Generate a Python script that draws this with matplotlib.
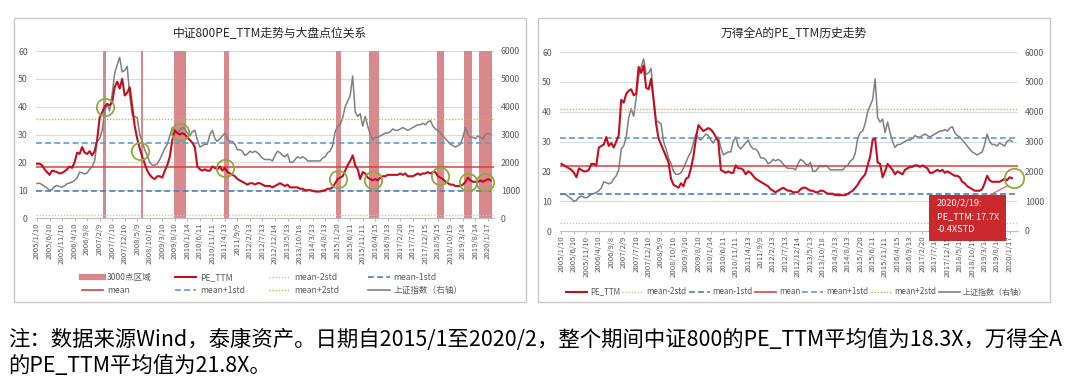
import matplotlib
matplotlib.use('Agg')
import matplotlib.pyplot as plt
from matplotlib.lines import Line2D
from matplotlib.patches import Rectangle
import numpy as np

plt.rcParams['font.family'] = ['Noto Sans CJK SC', 'DejaVu Sans']

# ---------------- data ----------------
tick_labels = ['2005/1/10', '2005/6/10', '2005/11/10', '2006/4/10', '2006/9/8', '2007/2/9',
               '2007/7/10', '2007/12/10', '2008/5/9', '2008/10/10', '2009/3/10', '2009/8/10',
               '2010/1/14', '2010/6/11', '2010/11/11', '2011/4/13', '2011/9/9', '2012/2/13',
               '2012/7/13', '2012/12/14', '2013/5/13', '2013/10/18', '2014/3/13', '2014/8/13',
               '2015/1/20', '2015/6/11', '2015/11/11', '2016/4/15', '2016/9/13', '2017/2/20',
               '2017/7/17', '2017/12/15', '2018/5/15', '2018/10/19', '2019/3/14', '2019/8/14',
               '2020/1/17']
tick_step = 5  # one label every 5 monthly observations

# Shanghai Composite (monthly, 2005/1 - 2020/2)
sh_index = [
    1240, 1250, 1200, 1140, 1080, 990, 1030, 1130, 1170, 1130, 1110, 1160,
    1230, 1260, 1290, 1350, 1440, 1650, 1620, 1580, 1620, 1750, 1850, 2050,
    2750, 2850, 3150, 3800, 4100, 3850, 4450, 5200, 5500, 5770, 5250, 5300,
    5450, 4400, 3700, 3650, 3600, 3000, 2750, 2450, 2250, 2000, 1900, 1900,
    1950, 2100, 2300, 2500, 2650, 2950, 3250, 3100, 3050, 3150, 3250, 3200,
    3050, 2950, 3100, 3150, 2800, 2550, 2600, 2650, 2650, 3000, 3150, 2850,
    2750, 2850, 2950, 3050, 2850, 2750, 2750, 2650, 2450, 2450, 2400, 2250,
    2300, 2400, 2350, 2400, 2350, 2250, 2150, 2100, 2100, 2100, 2050, 2250,
    2400, 2350, 2250, 2200, 2300, 2000, 2000, 2100, 2200, 2150, 2200, 2150,
    2050, 2050, 2050, 2050, 2050, 2050, 2150, 2200, 2350, 2400, 2600, 3100,
    3300, 3350, 3600, 4000, 4200, 4400, 5100, 3800, 3650, 3750, 3300, 3650,
    3300, 3000, 2800, 2900, 2900, 2950, 3000, 3050, 3050, 3100, 3200, 3150,
    3150, 3200, 3250, 3200, 3150, 3200, 3250, 3300, 3350, 3350, 3400, 3350,
    3450, 3500, 3300, 3200, 3150, 3050, 2950, 2850, 2750, 2650, 2600, 2550,
    2600, 2650, 2900, 3250, 3000, 2900, 2900, 2850, 2950, 2900, 2850, 3000,
    3050, 3000]

# CSI 800 PE_TTM
pe_800 = [
    19.5, 19.5, 19.0, 17.5, 16.5, 15.5, 17.0, 16.8, 16.5, 16.0, 16.2, 16.8,
    17.5, 18.5, 18.0, 20.0, 23.5, 23.0, 25.5, 23.5, 23.0, 24.0, 22.5, 24.0,
    28.0, 36.0, 38.0, 40.0, 41.0, 40.5, 41.5, 47.0, 49.0, 46.5, 50.0, 44.0,
    45.0, 47.0, 40.0, 33.0, 28.5, 25.0, 22.0, 19.5, 17.0, 15.5, 14.5, 14.0,
    15.0, 15.0, 14.5, 17.0, 19.0, 22.0, 28.0, 31.5, 30.5, 30.0, 30.5, 30.0,
    29.0, 28.0, 27.0, 25.5, 18.5, 17.5, 17.0, 17.5, 17.0, 17.0, 18.5, 18.0,
    17.5, 18.5, 17.0, 18.0, 16.5, 16.0, 15.5, 15.0, 14.0, 13.5, 13.0, 12.5,
    12.0, 12.5, 12.5, 12.0, 12.5, 12.5, 12.0, 11.5, 11.5, 11.5, 11.0, 11.5,
    12.0, 12.5, 12.0, 11.5, 12.0, 11.0, 11.0, 11.0, 11.0, 10.5, 10.5, 10.0,
    10.0, 10.0, 9.8, 9.5, 9.5, 9.5, 9.8, 10.0, 10.5, 10.5, 11.0, 12.5,
    14.0, 14.5, 15.0, 17.0, 19.0, 20.5, 22.5, 19.0, 17.5, 14.0, 16.5, 16.0,
    14.5, 14.0, 13.5, 14.0, 13.5, 14.5, 15.0, 15.0, 15.5, 15.5, 15.5, 15.5,
    15.5, 16.0, 15.5, 16.0, 15.0, 15.0, 15.0, 15.5, 16.0, 15.5, 16.0, 16.0,
    16.5, 16.0, 16.5, 16.5, 15.0, 14.5, 14.0, 13.0, 12.5, 12.0, 12.0, 11.5,
    11.5, 11.5, 12.0, 13.0, 14.5, 13.5, 13.0, 13.0, 13.0, 13.5, 13.0, 13.5,
    14.0, 13.5]

# Wind All A PE_TTM
pe_all_a = [
    22.5, 22.0, 21.5, 21.0, 20.5, 19.5, 18.0, 21.0, 20.5, 20.0, 20.0, 20.5,
    22.5, 22.5, 22.0, 28.0, 28.5, 29.0, 31.5, 28.5, 29.5, 28.0, 30.0, 32.0,
    44.0, 43.0, 46.0, 47.0, 47.5, 45.5, 46.0, 55.0, 53.0, 55.5, 48.0, 47.5,
    51.0, 44.0, 36.0, 31.0, 29.0, 27.0, 25.0, 23.0, 17.5, 15.5, 15.0, 14.5,
    16.0, 15.0, 17.5, 18.0, 21.0, 25.0, 31.0, 35.5, 34.5, 33.5, 34.0, 34.5,
    34.0, 33.0, 31.5, 30.0, 20.5, 20.0, 19.5, 20.0, 19.5, 19.5, 22.0, 21.0,
    21.0, 20.5, 19.0, 20.0, 19.5, 18.5, 17.5, 17.0, 16.5, 16.0, 15.5, 15.0,
    14.0, 13.5, 13.0, 13.5, 14.0, 14.5, 14.0, 13.5, 13.5, 13.0, 13.0, 13.0,
    14.0, 14.5, 14.5, 14.0, 13.5, 13.5, 13.0, 13.0, 13.5, 13.5, 13.0, 12.5,
    12.5, 12.5, 12.0, 12.0, 12.0, 12.0, 12.0, 12.5, 13.0, 13.5, 14.5, 15.5,
    17.0, 18.0, 19.0, 22.0, 25.0, 30.5, 31.0, 23.0, 22.5, 18.0, 20.0, 22.5,
    21.5, 20.5, 19.0, 20.0, 19.5, 19.0, 20.5, 21.0, 21.5, 21.5, 22.0, 22.0,
    21.5, 22.0, 21.5, 21.0, 19.5, 19.5, 20.0, 20.5, 20.0, 20.5, 19.5, 20.0,
    19.5, 19.0, 18.5, 18.5, 18.0, 16.5, 16.0, 15.0, 14.5, 14.0, 13.5, 13.5,
    13.5, 14.0, 16.0, 18.5, 17.0, 16.5, 16.5, 16.5, 16.5, 17.0, 17.5, 17.0,
    18.0, 17.7]

mean_800, std_800 = 18.3, 8.7
mean_all_a, std_all_a = 21.8, 9.5

# months flagged as "3000点区域"
zone_3000 = [27, 42, 55, 56, 57, 58, 59, 75, 76, 120, 121, 133, 134, 135, 136,
             160, 161, 162, 171, 172, 173, 177, 178, 179, 180, 181]
# highlighted observations (month index, PE) on the CSI 800 chart
circle_idx = [27, 41, 57, 75, 120, 134, 161, 172, 179]
circle_pe = [40.0, 24.0, 31.0, 18.0, 14.0, 13.5, 15.0, 13.0, 13.0]

note_date = '2020/2/19:'
note_pe = 'PE_TTM: 17.7X'
note_std = '-0.4XSTD'

title_left = '中证800PE_TTM走势与大盘点位关系'
title_right = '万得全A的PE_TTM历史走势'
caption1 = '注：数据来源Wind，泰康资产。日期自2015/1至2020/2，整个期间中证800的PE_TTM平均值为18.3X，万得全A'
caption2 = '的PE_TTM平均值为21.8X。'

# ---------------- styles ----------------
W, H = 1080, 389
c_pe = '#c01020'
c_mean = '#d94040'
c_m1 = '#4a7ebb'
c_p1 = '#5b9bd5'
c_m2 = '#cdc597'
c_p2 = '#c7b256'
c_sh = '#7f7f7f'
c_shade = '#d9888c'
c_circle = '#92a83e'
c_tick = '#595959'
c_grid = '#d9d9d9'

fig = plt.figure(figsize=(W / 100, H / 100), dpi=100)
fig.patch.set_facecolor('white')


def fx(px):
    return px / W


def fy(py):
    return 1 - py / H


def add_rect_px(x0, y0, x1, y1, **kw):
    r = Rectangle((fx(x0), fy(y1)), fx(x1) - fx(x0), fy(y0) - fy(y1),
                  transform=fig.transFigure, **kw)
    fig.patches.append(r)
    return r


n = len(pe_800)
x = np.arange(n)
tick_pos = np.arange(len(tick_labels)) * tick_step


def make_panel(px_left, px_right, py_top, py_bottom, xlim, pe, mean, std, shade=None):
    axr = fig.add_axes([fx(px_left), fy(py_bottom), fx(px_right) - fx(px_left),
                        fy(py_top) - fy(py_bottom)])
    axl = axr.twinx()
    axr.set_zorder(1)
    axl.set_zorder(2)
    axl.patch.set_visible(False)
    axr.patch.set_visible(False)
    axl.yaxis.tick_left()
    axr.yaxis.tick_right()

    axr.set_xlim(*xlim)
    axr.set_ylim(0, 6000)
    axl.set_ylim(0, 60)
    axr.set_yticks(np.arange(0, 6001, 1000))
    axl.set_yticks(np.arange(0, 61, 10))
    for yv in np.arange(1000, 6001, 1000):
        axr.axhline(yv, color=c_grid, lw=0.8, zorder=0)

    if shade is not None:
        axr.bar(shade, 6000, width=1.0, color=c_shade, linewidth=0, zorder=1)
    axr.plot(x, sh_index, color=c_sh, lw=1.1, zorder=2)

    axl.axhline(mean - 2 * std, color=c_m2, lw=1.0, linestyle=(0, (1, 1.2)))
    axl.axhline(mean + 2 * std, color=c_p2, lw=1.0, linestyle=(0, (1, 1.2)))
    axl.axhline(mean - std, color=c_m1, lw=1.2, linestyle=(0, (3.5, 2)))
    axl.axhline(mean + std, color=c_p1, lw=1.2, linestyle=(0, (3.5, 2)))
    axl.axhline(mean, color=c_mean, lw=1.1)
    axl.plot(x, pe, color=c_pe, lw=1.5)

    for a in (axl, axr):
        for s in ('top', 'left', 'right'):
            a.spines[s].set_visible(False)
        a.spines['bottom'].set_color('#bfbfbf')
        a.spines['bottom'].set_linewidth(0.8)
    axr.set_xticks(tick_pos)
    axr.set_xticklabels(tick_labels, rotation=90, fontsize=5.6, color=c_tick)
    axr.tick_params(axis='x', length=2, color='#bfbfbf', pad=1.5)
    axl.tick_params(axis='y', length=0, pad=6, labelsize=6.3, labelcolor=c_tick,
                    left=True, labelleft=True, right=False, labelright=False)
    axr.tick_params(axis='y', length=0, pad=5, labelsize=6.3, labelcolor=c_tick,
                    left=False, labelleft=False, right=True, labelright=True)
    return axl, axr


# ---------------- left panel ----------------
add_rect_px(14, 18, 526, 302, facecolor='white', edgecolor='#c8c8c8', lw=1.0, zorder=-5)
axL, axLr = make_panel(36, 494, 51, 218, (-0.4, 182.4), pe_800, mean_800, std_800,
                       shade=zone_3000)
axL.plot(circle_idx, circle_pe, linestyle='none', marker='o', ms=12.5,
         markerfacecolor='none', markeredgecolor=c_circle, markeredgewidth=1.3,
         clip_on=False, zorder=5)
fig.text(fx(270), fy(34), title_left, ha='center', va='center', fontsize=8.5,
         color='#262626')

# ---------------- right panel ----------------
add_rect_px(538, 18, 1050, 302, facecolor='white', edgecolor='#c8c8c8', lw=1.0, zorder=-5)
axR, axRr = make_panel(560, 1018, 52, 231, (-0.6, 183.4), pe_all_a, mean_all_a, std_all_a)
axR.plot([n - 1 + 0.6], [pe_all_a[-1]], linestyle='none', marker='o', ms=14,
         markerfacecolor='none', markeredgecolor=c_circle, markeredgewidth=1.3,
         clip_on=False, zorder=5)
fig.text(fx(794), fy(34), title_right, ha='center', va='center', fontsize=8.5,
         color='#262626')

# annotation box
add_rect_px(929, 195, 1005, 240, facecolor='#c9282d', edgecolor='#b01e24', lw=0.6, zorder=6)
fig.text(fx(937), fy(203), note_date, ha='left', va='center', fontsize=6.6,
         color='white', zorder=7)
fig.text(fx(937), fy(216.5), note_pe, ha='left', va='center', fontsize=6.6,
         color='white', zorder=7)
fig.text(fx(937), fy(229.5), note_std, ha='left', va='center', fontsize=6.6,
         color='white', zorder=7)
arrow = Line2D([fx(990), fx(1007)], [fy(195), fy(186)], transform=fig.transFigure,
               color='#d77070', lw=1.0, zorder=6)
fig.lines.append(arrow)

# ---------------- legends ----------------
h_shade = Line2D([], [], color=c_shade, lw=4.5)
h_pe = Line2D([], [], color=c_pe, lw=1.5)
h_m2 = Line2D([], [], color=c_m2, lw=1.0, linestyle=(0, (1, 1.2)))
h_m1 = Line2D([], [], color=c_m1, lw=1.2, linestyle=(0, (3.5, 2)))
h_mean = Line2D([], [], color=c_mean, lw=1.2)
h_p1 = Line2D([], [], color=c_p1, lw=1.2, linestyle=(0, (3.5, 2)))
h_p2 = Line2D([], [], color=c_p2, lw=1.0, linestyle=(0, (1, 1.2)))
h_sh = Line2D([], [], color=c_sh, lw=1.2)

lab_sh = '上证指数（右轴）'
left_cols = [
    (81.5, [h_shade, h_mean], ['3000点区域', 'mean']),
    (174.5, [h_pe, h_p1], ['PE_TTM', 'mean+1std']),
    (268.5, [h_m2, h_p2], ['mean-2std', 'mean+2std']),
    (368.0, [h_m1, h_sh], ['mean-1std', lab_sh]),
]
for xc, hs, ls in left_cols:
    fig.legend(hs, ls, loc='center left', bbox_to_anchor=(fx(xc), fy(284)),
               frameon=False, fontsize=6.2, handlelength=2.5, handletextpad=0.45,
               labelspacing=0.55, borderpad=0, borderaxespad=0, labelcolor=c_tick)

fig.legend([h_pe, h_m2, h_m1, h_mean, h_p1, h_p2, h_sh],
           ['PE_TTM', 'mean-2std', 'mean-1std', 'mean', 'mean+1std', 'mean+2std', lab_sh],
           loc='center left', bbox_to_anchor=(fx(566), fy(292)), ncol=7,
           frameon=False, fontsize=5.8, handlelength=2.6, handletextpad=0.35,
           columnspacing=0.3, borderpad=0, borderaxespad=0, labelcolor=c_tick)

# ---------------- caption ----------------
fig.text(fx(8), fy(340), caption1, ha='left', va='center', fontsize=15.4, color='black')
fig.text(fx(8), fy(366), caption2, ha='left', va='center', fontsize=15.4, color='black')

fig.savefig('out.png', dpi=100, facecolor='white')
